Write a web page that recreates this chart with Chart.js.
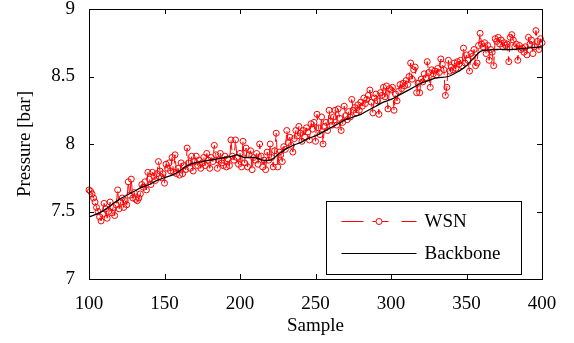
<!DOCTYPE html>
<html>
<head>
<meta charset="utf-8">
<script src="https://cdn.jsdelivr.net/npm/chart.js@4.4.0/dist/chart.umd.min.js"></script>
<style>
html, body { margin: 0; padding: 0; background: #fff; }
#wrap { width: 574px; height: 343px; }
</style>
</head>
<body>
<div id="wrap"><canvas id="pressureChart" width="574" height="343"></canvas></div>
<script>
// samples 100..400, one WSN reading per sample
const firstSample = 100;
const wsnValues = [
    7.66, 7.65, 7.63, 7.60, 7.57, 7.53, 7.50, 7.46, 7.43, 7.48,
    7.56, 7.52, 7.45, 7.50, 7.57, 7.49, 7.53, 7.47, 7.55, 7.66,
    7.52, 7.57, 7.60, 7.53, 7.58, 7.55, 7.72, 7.62, 7.74, 7.60,
    7.64, 7.59, 7.58, 7.60, 7.63, 7.70, 7.68, 7.72, 7.66, 7.79,
    7.74, 7.70, 7.79, 7.76, 7.73, 7.78, 7.87, 7.80, 7.75, 7.78,
    7.71, 7.85, 7.82, 7.86, 7.80, 7.90, 7.79, 7.92, 7.78, 7.82,
    7.77, 7.86, 7.78, 7.84, 7.81, 7.97, 7.86, 7.82, 7.91, 7.80,
    7.87, 7.91, 7.84, 7.88, 7.82, 7.86, 7.90, 7.84, 7.93, 7.88,
    7.82, 7.90, 7.87, 7.99, 7.92, 7.82, 7.88, 7.93, 7.86, 7.84,
    7.91, 7.83, 7.89, 7.84, 8.03, 7.91, 7.88, 8.03, 7.90, 7.85,
    7.93, 7.83, 8.02, 7.86, 7.97, 7.83, 7.92, 7.95, 7.81, 7.90,
    7.88, 7.93, 7.85, 8.00, 7.91, 7.83, 7.88, 7.81, 7.94, 7.88,
    8.00, 7.90, 7.83, 7.95, 8.08, 7.83, 7.94, 7.92, 7.87, 7.98,
    7.96, 8.10, 8.01, 8.05, 7.99, 7.94, 8.04, 8.10, 8.06, 8.13,
    8.08, 8.02, 8.10, 8.05, 8.12, 8.09, 8.03, 8.15, 8.11, 8.16,
    8.02, 8.22, 8.12, 8.07, 8.20, 8.00, 8.13, 8.16, 8.10, 8.25,
    8.17, 8.14, 8.20, 8.25, 8.14, 8.26, 8.19, 8.10, 8.16, 8.28,
    8.21, 8.18, 8.24, 8.20, 8.33, 8.25, 8.27, 8.23, 8.29, 8.25,
    8.31, 8.28, 8.34, 8.30, 8.33, 8.36, 8.40, 8.31, 8.23, 8.34,
    8.37, 8.32, 8.22, 8.38, 8.36, 8.42, 8.35, 8.43, 8.26, 8.41,
    8.40, 8.42, 8.25, 8.37, 8.32, 8.39, 8.44, 8.41, 8.45, 8.43,
    8.47, 8.44, 8.50, 8.60, 8.48, 8.55, 8.57, 8.38, 8.45, 8.38,
    8.48, 8.46, 8.52, 8.49, 8.61, 8.53, 8.42, 8.55, 8.52, 8.54,
    8.51, 8.56, 8.53, 8.63, 8.59, 8.55, 8.36, 8.42, 8.62, 8.54,
    8.57, 8.55, 8.60, 8.56, 8.61, 8.59, 8.62, 8.58, 8.71, 8.60,
    8.66, 8.62, 8.54, 8.67, 8.65, 8.70, 8.58, 8.60, 8.73, 8.82,
    8.74, 8.72, 8.75, 8.67, 8.73, 8.62, 8.70, 8.68, 8.58, 8.78,
    8.76, 8.79, 8.74, 8.77, 8.72, 8.75, 8.73, 8.74, 8.61, 8.79,
    8.81, 8.77, 8.72, 8.74, 8.62, 8.73, 8.70, 8.71, 8.68, 8.72,
    8.66, 8.79, 8.74, 8.77, 8.67, 8.72, 8.84, 8.76, 8.70, 8.78,
    8.75
];

// backbone reference at these samples
const backboneSamples = [100, 105, 110, 115, 120, 125, 130, 135, 140, 145, 150, 155, 160, 165, 170, 175, 180, 185, 190, 195, 198, 203, 210, 215, 220, 225, 230, 235, 240, 245, 250, 255, 260, 265, 270, 275, 280, 285, 290, 295, 300, 305, 310, 315, 320, 325, 330, 338, 345, 350, 355, 360, 370, 380, 390, 400];
const backboneValues = [7.46, 7.48, 7.51, 7.55, 7.59, 7.62, 7.65, 7.68, 7.70, 7.73, 7.75, 7.77, 7.80, 7.84, 7.86, 7.87, 7.88, 7.89, 7.90, 7.91, 7.92, 7.90, 7.90, 7.88, 7.88, 7.92, 7.96, 7.99, 8.01, 8.04, 8.06, 8.09, 8.12, 8.15, 8.18, 8.20, 8.22, 8.25, 8.28, 8.31, 8.33, 8.36, 8.39, 8.42, 8.45, 8.47, 8.49, 8.50, 8.54, 8.58, 8.64, 8.69, 8.70, 8.70, 8.71, 8.72];

const xTicks = [100, 150, 200, 250, 300, 350, 400];
const yTicks = [7, 7.5, 8, 8.5, 9];

const serif = "'Liberation Serif', 'Times New Roman', serif";
const wsnColor = '#ff0000';
const backboneColor = '#000000';

const wsnPoints = wsnValues.map(function(v, i) { return { x: firstSample + i, y: v }; });
const backbonePoints = backboneSamples.map(function(s, i) { return { x: s, y: backboneValues[i] }; });

// box, inward ticks and legend, drawn on top like in matlab
const frameAndLegend = {
    id: 'frameAndLegend',
    afterDraw(chart) {
        const ctx = chart.ctx;
        const area = chart.chartArea;
        const xs = chart.scales.x;
        const ys = chart.scales.y;
        const tickLen = 5;
        ctx.save();
        ctx.strokeStyle = '#000';
        ctx.lineWidth = 1;
        ctx.beginPath();
        xTicks.forEach(function(t) {
            const px = Math.round(xs.getPixelForValue(t)) + 0.5;
            ctx.moveTo(px, area.bottom);
            ctx.lineTo(px, area.bottom - tickLen);
            ctx.moveTo(px, area.top);
            ctx.lineTo(px, area.top + tickLen);
        });
        yTicks.forEach(function(t) {
            const py = Math.round(ys.getPixelForValue(t)) + 0.5;
            ctx.moveTo(area.left, py);
            ctx.lineTo(area.left + tickLen, py);
            ctx.moveTo(area.right, py);
            ctx.lineTo(area.right - tickLen, py);
        });
        ctx.stroke();
        ctx.strokeRect(area.left + 0.5, area.top + 0.5, area.right - area.left, area.bottom - area.top);

        // legend box
        const lw = 195, lh = 73;
        const lx = Math.round(area.right - 21 - lw) + 0.5;
        const ly = Math.round(area.bottom - 5 - lh) + 0.5;
        ctx.fillStyle = '#fff';
        ctx.fillRect(lx, ly, lw, lh);
        ctx.strokeRect(lx, ly, lw, lh);

        const sx = lx + 15;
        const row1 = ly + 20;
        const row2 = ly + 52;
        ctx.strokeStyle = wsnColor;
        ctx.beginPath();
        [[0, 22], [31, 47], [60, 75]].forEach(function(seg) {
            ctx.moveTo(sx + seg[0], row1);
            ctx.lineTo(sx + seg[1], row1);
        });
        ctx.stroke();
        ctx.fillStyle = '#fff';
        ctx.beginPath();
        ctx.arc(sx + 37.5, row1, 3, 0, Math.PI * 2);
        ctx.fill();
        ctx.stroke();

        ctx.strokeStyle = backboneColor;
        ctx.beginPath();
        ctx.moveTo(sx, row2);
        ctx.lineTo(sx + 75, row2);
        ctx.stroke();

        ctx.fillStyle = '#000';
        ctx.font = '19px ' + serif;
        ctx.textBaseline = 'middle';
        ctx.fillText(chart.data.datasets[0].label, sx + 83, row1 + 1);
        ctx.fillText(chart.data.datasets[1].label, sx + 83, row2 + 1);
        ctx.restore();
    }
};

const ctx = document.getElementById('pressureChart').getContext('2d');
const pressureChart = new Chart(ctx, {
    type: 'line',
    data: {
        datasets: [{
            label: 'WSN',
            data: wsnPoints,
            borderColor: wsnColor,
            borderWidth: 1,
            borderDash: [10, 5],
            pointRadius: 3,
            pointBorderWidth: 1,
            pointBorderColor: wsnColor,
            pointBackgroundColor: 'rgba(255,255,255,0)',
            tension: 0,
            clip: false,
            order: 2
        }, {
            label: 'Backbone',
            data: backbonePoints,
            borderColor: backboneColor,
            borderWidth: 1.3,
            pointRadius: 0,
            tension: 0.3,
            clip: false,
            order: 1
        }]
    },
    options: {
        responsive: false,
        animation: false,
        layout: { padding: { top: 9, right: 32, left: 0, bottom: 0 } },
        plugins: {
            legend: { display: false },
            tooltip: { enabled: false }
        },
        scales: {
            x: {
                type: 'linear',
                min: 100,
                max: 400,
                grid: { display: false },
                border: { display: false },
                ticks: {
                    stepSize: 50,
                    color: '#000',
                    padding: 6,
                    maxRotation: 0,
                    font: { family: serif, size: 19 }
                },
                title: {
                    display: true,
                    text: 'Sample',
                    color: '#000',
                    padding: { top: 0, bottom: 6 },
                    font: { family: serif, size: 19 }
                },
                afterFit: function(scale) {
                    scale.height = 64;
                    scale.paddingLeft = 0;
                    scale.paddingRight = 0;
                }
            },
            y: {
                min: 7,
                max: 9,
                grid: { display: false },
                border: { display: false },
                ticks: {
                    stepSize: 0.5,
                    color: '#000',
                    padding: 6,
                    font: { family: serif, size: 19 },
                    callback: function(value) { return String(value); }
                },
                title: {
                    display: true,
                    text: 'Pressure [bar]',
                    color: '#000',
                    padding: { top: 14, bottom: 0 },
                    font: { family: serif, size: 19 }
                },
                afterFit: function(scale) {
                    scale.width = 89;
                    scale.paddingTop = 0;
                    scale.paddingBottom = 0;
                }
            }
        }
    },
    plugins: [frameAndLegend]
});
</script>
</body>
</html>
